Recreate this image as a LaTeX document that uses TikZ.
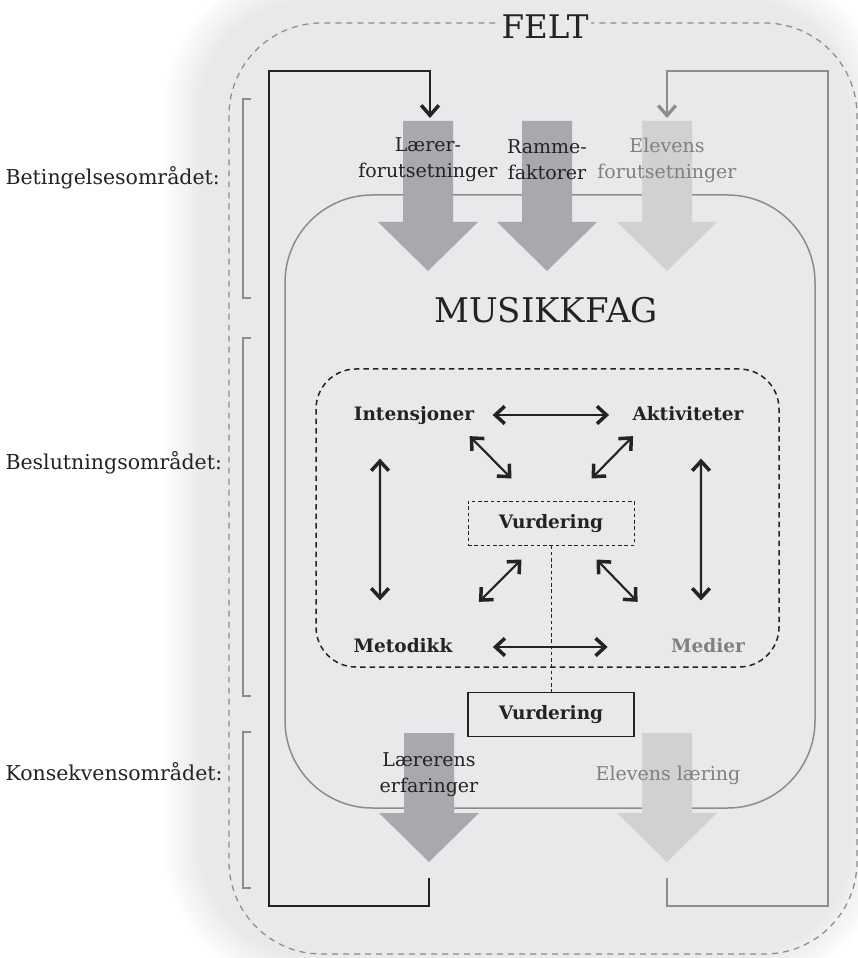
\documentclass[tikz,border=0pt]{standalone}
\usepackage{fontspec}
\setmainfont{DejaVu Serif}
\usepackage{tikz}
\usetikzlibrary{arrows.meta}

\definecolor{feltbg}{RGB}{232,233,235}
\definecolor{inkdark}{RGB}{35,35,35}
\definecolor{inkgray}{RGB}{128,128,128}
\definecolor{linegray}{RGB}{140,140,140}
\definecolor{arrdark}{RGB}{168,169,172}
\definecolor{arrlight}{RGB}{208,209,211}

\begin{document}
\begin{tikzpicture}[
        x=0.4pt, y=-0.4pt,
        omraade/.style={
            anchor=west,
            inner sep=0pt,
            text=inkdark,
            font=\fontsize{8.2}{9}\selectfont
        },
        bracket/.style={draw=linegray, line width=0.5pt},
        feltbox/.style={
            draw=linegray,
            line width=0.5pt,
            dash pattern=on 2.4pt off 2pt,
            rounded corners=37pt
        },
        fagbox/.style={draw=linegray, line width=0.6pt, rounded corners=35pt},
        valgbox/.style={
            draw=inkdark,
            line width=0.6pt,
            dash pattern=on 2.2pt off 1.6pt,
            rounded corners=16pt
        },
        factor/.style={
            align=center,
            inner sep=0pt,
            font=\fontsize{7.6}{10.4}\selectfont
        },
        element/.style={
            inner sep=0pt,
            text height=6pt,
            text depth=1.7pt,
            text=inkdark,
            font=\fontsize{7.4}{10}\selectfont\bfseries
        },
        vurdbox/.style={
            element,
            draw=inkdark,
            line width=0.6pt,
            fill=feltbg,
            minimum width=66.4pt,
            minimum height=17.6pt
        },
        dbl/.style={
            {Straight Barb[length=3.8pt,width=7pt,line width=1.4pt]}-{Straight Barb[length=3.8pt,width=7pt,line width=1.4pt]},
            line width=0.85pt,
            draw=inkdark
        },
        loopk/.style={
            -{Straight Barb[length=4pt,width=7pt,line width=1.4pt]},
            line width=0.8pt,
            draw=inkdark
        },
        loopg/.style={
            -{Straight Barb[length=4pt,width=7pt,line width=1.3pt]},
            line width=0.6pt,
            draw=linegray
        }
    ]
    \useasboundingbox (0,0) rectangle (858,958);

    % soft grey field behind everything
    \foreach \i [evaluate=\i as \p using int(\i*10)] in {0,...,10} {
        \fill[feltbg!\p!white, rounded corners=60pt-\i*1.6pt]
            (160+\i*4,-40+\i*4) rectangle (890-\i*4,995-\i*4);
    }

    % outer field and subject box
    \draw[feltbox] (229,23) rectangle (857,954);
    \node[fill=feltbg, inner sep=1pt, text=inkdark, font=\fontsize{13}{15}\selectfont] (felt) at (545,27) {FELT};
    \draw[fagbox] (285,195) rectangle (815,808);
    \draw[valgbox] (316,369) rectangle (779,667);

    % areas on the left
    \node[omraade] (beting) at (5,178) {Betingelsesområdet:};
    \node[omraade] (beslut) at (5,463) {Beslutningsområdet:};
    \node[omraade] (konsek) at (5,772) {Konsekvensområdet:};
    \draw[bracket] (251,99) -- (243,99) -- (243,298) -- (251,298);
    \draw[bracket] (251,338) -- (243,338) -- (243,696) -- (251,696);
    \draw[bracket] (251,732) -- (243,732) -- (243,888) -- (251,888);

    % big arrows in and out
    \foreach \cx/\col in {428/arrdark, 547/arrdark, 667/arrlight}
        \fill[\col] (\cx-25,121) -- (\cx+25,121) -- (\cx+25,222) -- (\cx+50,222)
            -- (\cx,271) -- (\cx-50,222) -- (\cx-25,222) -- cycle;
    \foreach \cx/\col in {429/arrdark, 667/arrlight}
        \fill[\col] (\cx-25,733) -- (\cx+25,733) -- (\cx+25,813) -- (\cx+50,813)
            -- (\cx,862) -- (\cx-50,813) -- (\cx-25,813) -- cycle;

    \coordinate (lerIn)  at (430,118);
    \coordinate (elevIn) at (667,118);
    \coordinate (lerOut) at (429,878);
    \coordinate (elevOut) at (667,878);

    \node[factor, text=inkdark] (lforut) at (428,160) {Lærer-\\forutsetninger};
    \node[factor, text=inkdark] (ramme)  at (547,160) {Ramme-\\faktorer};
    \node[factor, text=inkgray] (eforut) at (667,160) {Elevens\\forutsetninger};
    \node[factor, text=inkdark] (lerfar) at (429,775) {Lærerens\\erfaringer};
    \node[factor, text=inkgray] (elaer)  at (668,775) {Elevens læring};

    \node[text=inkdark, inner sep=0pt, font=\fontsize{13.6}{15}\selectfont] (fag) at (546,310) {MUSIKKFAG};

    % decision elements
    \node[element] (int) at (414,415) {Intensjoner};
    \node[element] (akt) at (688,415) {Aktiviteter};
    \node[element] (met) at (403,647) {Metodikk};
    \node[element, text=inkgray] (med) at (708,647) {Medier};
    \node[vurdbox, dash pattern=on 1.4pt off 1.1pt, line width=0.4pt] (vurdI) at (551,523) {Vurdering};
    \node[vurdbox] (vurdU) at (551,714.5) {Vurdering};

    \draw[inkdark, line width=0.4pt, dash pattern=on 1.4pt off 1.1pt] (vurdI.south) -- (vurdU.north);

    % arrows between elements
    \draw[dbl, shorten <=7.2pt, shorten >=9.2pt] (int.east) -- (akt.west);
    \draw[dbl, shorten <=16pt, shorten >=25.2pt] (met.east) -- (med.west);
    \draw[dbl, shorten <=13.4pt, shorten >=14.6pt] ([xshift=-13.6pt]int.south) -- ([xshift=-9.2pt]met.north);
    \draw[dbl, shorten <=13.4pt, shorten >=14.6pt] ([xshift=5.2pt]akt.south) -- ([xshift=-2.8pt]med.north);
    \draw[dbl] ([shift={(-5,11)}]int.south east) -- ([shift={(44,-22)}]vurdI.north west);
    \draw[dbl] ([shift={(1,11)}]akt.south west) -- ([shift={(-43,-22)}]vurdI.north east);
    \draw[dbl] ([shift={(54,14)}]vurdI.south west) -- ([shift={(26,-35)}]met.north east);
    \draw[dbl] ([shift={(-38,14)}]vurdI.south east) -- ([shift={(-33,-35)}]med.north west);

    % feedback loops
    \draw[loopk] (lerOut) -- ++(0,28) -| (269,71) -| (lerIn);
    \draw[loopg] (elevOut) -- ++(0,28) -| (828,71) -| (elevIn);

\end{tikzpicture}
\end{document}
